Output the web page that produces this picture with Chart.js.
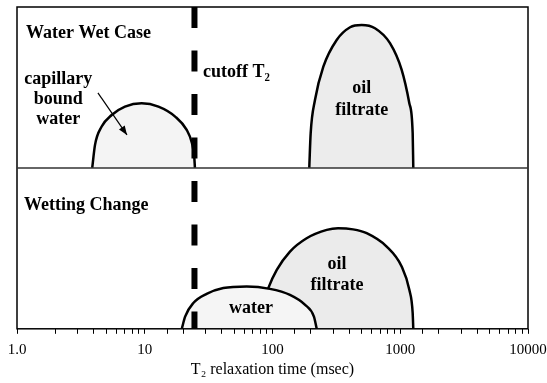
<!DOCTYPE html>
<html>
<head>
<meta charset="utf-8">
<script src="https://cdn.jsdelivr.net/npm/chart.js@4.4.1/dist/chart.umd.min.js"></script>
<style>
  html, body { margin: 0; padding: 0; background: #fff; }
  #myChartBody { width: 547px; height: 383px; }
</style>
</head>
<body>
<div id="myChartBody"><canvas id="myChart"></canvas></div>
<script>
// T2 in msec (log axis), amplitude in arbitrary units (0-100 per panel)
var capWaterT2  = [3.88, 4.08, 4.6, 5.51, 7.0, 9.46, 12.8, 17.3, 21.3, 23.4, 24.4, 24.7];
var capWaterAmp = [0, 14.3, 25.7, 32.9, 38.1, 40.2, 38.1, 31.9, 23.6, 15.5, 7, 0];

var oilTopT2  = [194, 199, 215, 250, 318, 405, 499, 634, 831, 1026, 1178, 1251, 1265];
var oilTopAmp = [0, 21.6, 42.2, 62.9, 79.5, 87.4, 88.8, 86.8, 77.5, 60.9, 40.2, 21.6, 0];

var waterBotT2  = [19.5, 20.7, 24.0, 30.5, 41.2, 62.8, 95.5, 137, 180, 211, 222];
var waterBotAmp = [0, 7.6, 16.0, 21.7, 25.3, 26.3, 24.8, 21.1, 14.9, 7.6, 0];

var oilBotT2  = [80, 84, 92.7, 108, 137, 185, 266, 326, 427, 546, 783, 1026, 1178, 1251, 1265];
var oilBotAmp = [0, 15, 25.3, 36.6, 48.0, 56.3, 61.5, 62.5, 61.8, 59.4, 51.1, 38.7, 24.2, 9.8, 0];

var cutoffT2 = 24.5;

var tickValues = [1, 10, 100, 1000, 10000];
var tickLabels = ['1.0', '10', '100', '1000', '10000'];

var SERIF = "'Liberation Serif', 'Times New Roman', 'DejaVu Serif', serif";

function pts(xs, ys) {
    return xs.map((t, i) => ({ x: t, y: ys[i] }));
}

// text notes, placed in data units of the given panel
var notes = [
    { text: 'capillary', x: 2.1, y: 55.3, axis: 'yTop' },
    { text: 'bound', x: 2.1, y: 42.9, axis: 'yTop' },
    { text: 'water', x: 2.1, y: 30.4, axis: 'yTop' },
    { text: 'oil', x: 499, y: 49.7, axis: 'yTop' },
    { text: 'filtrate', x: 499, y: 36.0, axis: 'yTop' },
    { text: 'oil', x: 320, y: 39.8, axis: 'yBot' },
    { text: 'filtrate', x: 320, y: 27.3, axis: 'yBot' },
    { text: 'water', x: 67.9, y: 13.0, axis: 'yBot' }
];

const panelDecor = {
    id: 'panelDecor',
    afterDatasetsDraw(chart) {
        const ctx = chart.ctx;
        const a = chart.chartArea;
        const xs = chart.scales.x, yT = chart.scales.yTop, yB = chart.scales.yBot;
        ctx.save();

        // frame + divider
        ctx.strokeStyle = '#000';
        ctx.lineWidth = 1.5;
        ctx.strokeRect(a.left, a.top, a.right - a.left, a.bottom - a.top);
        ctx.strokeStyle = '#333';
        ctx.beginPath();
        ctx.moveTo(a.left, yT.bottom);
        ctx.lineTo(a.right, yT.bottom);
        ctx.stroke();

        // cutoff T2
        const cx = xs.getPixelForValue(cutoffT2);
        ctx.strokeStyle = '#000';
        ctx.lineWidth = 6;
        ctx.setLineDash([21, 22.5]);
        ctx.beginPath();
        ctx.moveTo(cx, a.top);
        ctx.lineTo(cx, a.bottom);
        ctx.stroke();
        ctx.setLineDash([]);

        // arrow to capillary bound water
        const x0 = xs.getPixelForValue(4.3), y0 = yT.getPixelForValue(46.6);
        const x1 = xs.getPixelForValue(7.26), y1 = yT.getPixelForValue(20.5);
        ctx.lineWidth = 1.2;
        ctx.beginPath();
        ctx.moveTo(x0, y0);
        ctx.lineTo(x1, y1);
        ctx.stroke();
        const ang = Math.atan2(y1 - y0, x1 - x0);
        ctx.fillStyle = '#000';
        ctx.beginPath();
        ctx.moveTo(x1, y1);
        ctx.lineTo(x1 - 9 * Math.cos(ang) + 3.5 * Math.sin(ang), y1 - 9 * Math.sin(ang) - 3.5 * Math.cos(ang));
        ctx.lineTo(x1 - 9 * Math.cos(ang) - 3.5 * Math.sin(ang), y1 - 9 * Math.sin(ang) + 3.5 * Math.cos(ang));
        ctx.closePath();
        ctx.fill();

        // labels
        ctx.fillStyle = '#000';
        ctx.font = 'bold 18px ' + SERIF;
        ctx.textBaseline = 'middle';
        ctx.textAlign = 'left';
        ctx.fillText('Water Wet Case', a.left + 9, yT.top + 26);
        ctx.fillText('Wetting Change', a.left + 7, yB.top + 37);
        ctx.fillText('cutoff T\u2082', xs.getPixelForValue(28.6), yT.getPixelForValue(59.6));

        ctx.textAlign = 'center';
        notes.forEach(n => {
            const sc = chart.scales[n.axis];
            ctx.fillText(n.text, xs.getPixelForValue(n.x), sc.getPixelForValue(n.y));
        });
        ctx.restore();
    }
};

const ctx = document.getElementById('myChart').getContext('2d');

const myChart = new Chart(ctx, {
    type: 'line',
    data: {
        datasets: [
            {
                label: 'capillary bound water',
                data: pts(capWaterT2, capWaterAmp),
                yAxisID: 'yTop',
                backgroundColor: '#f4f4f4',
                fill: 'origin'
            },
            {
                label: 'oil filtrate',
                data: pts(oilTopT2, oilTopAmp),
                yAxisID: 'yTop',
                backgroundColor: '#ececec',
                fill: 'origin'
            },
            {
                label: 'water',
                data: pts(waterBotT2, waterBotAmp),
                yAxisID: 'yBot',
                backgroundColor: '#f5f5f5',
                fill: 'origin'
            },
            {
                label: 'oil filtrate (wetting change)',
                data: pts(oilBotT2, oilBotAmp),
                yAxisID: 'yBot',
                backgroundColor: '#ebebeb',
                fill: 'origin'
            }
        ]
    },
    options: {
        responsive: true,
        maintainAspectRatio: false,
        animation: false,
        layout: {
            padding: { left: 17, right: 19, top: 7, bottom: 4 }
        },
        elements: {
            point: { radius: 0 },
            line: {
                borderColor: '#000',
                borderWidth: 2.5,
                cubicInterpolationMode: 'monotone'
            }
        },
        plugins: {
            legend: { display: false },
            tooltip: { enabled: false }
        },
        scales: {
            x: {
                type: 'logarithmic',
                position: 'bottom',
                min: 1,
                max: 10000,
                border: { display: false },
                grid: {
                    drawOnChartArea: false,
                    drawTicks: true,
                    tickLength: 5,
                    color: '#000',
                    lineWidth: 1
                },
                ticks: {
                    autoSkip: false,
                    maxRotation: 0,
                    padding: 7,
                    color: '#000',
                    font: { family: SERIF, size: 15 },
                    callback: function (v) {
                        var i = tickValues.indexOf(Math.round(v));
                        return (i >= 0 && Math.abs(v - tickValues[i]) < 1e-6) ? tickLabels[i] : '';
                    }
                },
                title: {
                    display: true,
                    text: 'T\u2082 relaxation time (msec)',
                    color: '#000',
                    font: { family: SERIF, size: 16 },
                    padding: { top: -6, bottom: 0 }
                },
                afterFit: function (scale) {
                    // let the end labels overhang into the page margins
                    scale.paddingLeft = 0;
                    scale.paddingRight = 0;
                }
            },
            yBot: {
                type: 'linear',
                position: 'left',
                stack: 'panels',
                stackWeight: 1,
                min: 0,
                max: 100,
                display: false
            },
            yTop: {
                type: 'linear',
                position: 'left',
                stack: 'panels',
                stackWeight: 1,
                min: 0,
                max: 100,
                display: false
            }
        }
    },
    plugins: [panelDecor]
});
</script>
</body>
</html>
